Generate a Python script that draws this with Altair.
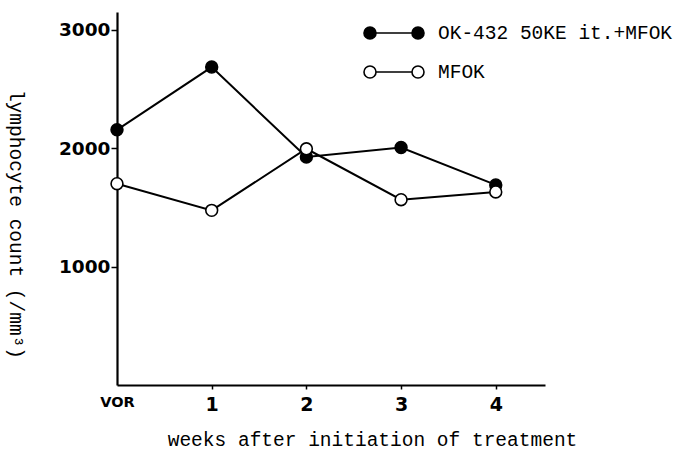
import altair as alt
import pandas as pd

# Lymphocyte counts per week for each treatment group
weeks = [0, 1, 2, 3, 4]
week_labels = ["VOR", "1", "2", "3", "4"]
series_names = ["OK-432 50KE it.+MFOK", "MFOK"]
ok432_counts = [2155, 2685, 1925, 2005, 1690]
mfok_counts = [1700, 1475, 1995, 1565, 1630]

rows = []
for name, counts in zip(series_names, [ok432_counts, mfok_counts]):
    for w, c in zip(weeks, counts):
        rows.append({"week": w, "count": c, "group": name})
df = pd.DataFrame(rows)

label_expr = "[" + ",".join(f"'{s}'" for s in week_labels) + "][datum.value]"

# legend glyph: circle - line - circle
legend_glyph = (
    "M-1.579,0A0.316,0.316,0,1,0,-0.947,0A0.316,0.316,0,1,0,-1.579,0Z"
    "M-0.947,0L0.947,0"
    "M0.947,0A0.316,0.316,0,1,0,1.579,0A0.316,0.316,0,1,0,0.947,0Z"
)

x_enc = alt.X(
    "week:Q",
    scale=alt.Scale(domain=[0, 4.52], nice=False, zero=False),
    axis=alt.Axis(
        values=weeks,
        labelExpr=label_expr,
        labelFlush=False,
        title="weeks after initiation of treatment",
        titleFont="Liberation Mono",
        titleFontSize=19.5,
        titleFontWeight="normal",
        titleX=255,
        titleY=60,
        titleBaseline="alphabetic",
        titleAlign="center",
        labelFont="DejaVu Sans",
        labelFontWeight="bold",
        labelFontSize={"condition": {"test": "datum.value == 0", "value": 14.5}, "value": 19},
        labelPadding=6,
        tickSize=4,
        tickWidth=1.5,
        tickOpacity={"condition": {"test": "datum.value == 0", "value": 0}, "value": 1},
        domainWidth=2.2,
        grid=False,
    ),
)
y_enc = alt.Y(
    "count:Q",
    scale=alt.Scale(domain=[0, 3150], nice=False),
    axis=alt.Axis(
        values=[1000, 2000, 3000],
        format="d",
        title="lymphocyte count (/mm³)",
        titleFont="Liberation Mono",
        titleFontSize=19.5,
        titleFontWeight="normal",
        titleAngle=90,
        titleX=-102,
        titleY=212,
        titleBaseline="middle",
        titleAlign="center",
        labelFont="DejaVu Sans",
        labelFontWeight="bold",
        labelFontSize=18.5,
        labelPadding=1,
        tickSize=6,
        tickWidth=1.5,
        domainWidth=2.2,
        grid=False,
    ),
)

lines = alt.Chart(df).mark_line(color="black", strokeWidth=2).encode(
    x=x_enc, y=y_enc, detail="group:N"
)

points = alt.Chart(df).mark_point(
    filled=True, size=140, stroke="black", strokeWidth=1.6, opacity=1
).encode(
    x="week:Q",
    y="count:Q",
    fill=alt.Fill(
        "group:N",
        scale=alt.Scale(domain=series_names, range=["black", "white"]),
        legend=alt.Legend(
            title=None,
            orient="none",
            legendX=257,
            legendY=1,
            symbolType=legend_glyph,
            symbolSize=1444,
            symbolStrokeColor="black",
            symbolStrokeWidth=1.6,
            labelFont="Liberation Mono",
            labelFontSize=19.5,
            labelOffset=24,
            labelLimit=0,
            rowPadding=9,
            padding=0,
        ),
    ),
)

chart = (
    alt.layer(lines, points)
    .properties(
        width=428,
        height=373,
        autosize=alt.AutoSizeParams(type="none"),
        padding={"left": 117, "top": 12, "right": 129, "bottom": 69},
        background="white",
    )
    .configure_view(stroke=None)
    .configure_axis(domainColor="black", tickColor="black", labelColor="black", titleColor="black")
    .configure_legend(labelColor="black")
)

chart.save("out.html", embed_options={"renderer": "svg", "actions": False})
